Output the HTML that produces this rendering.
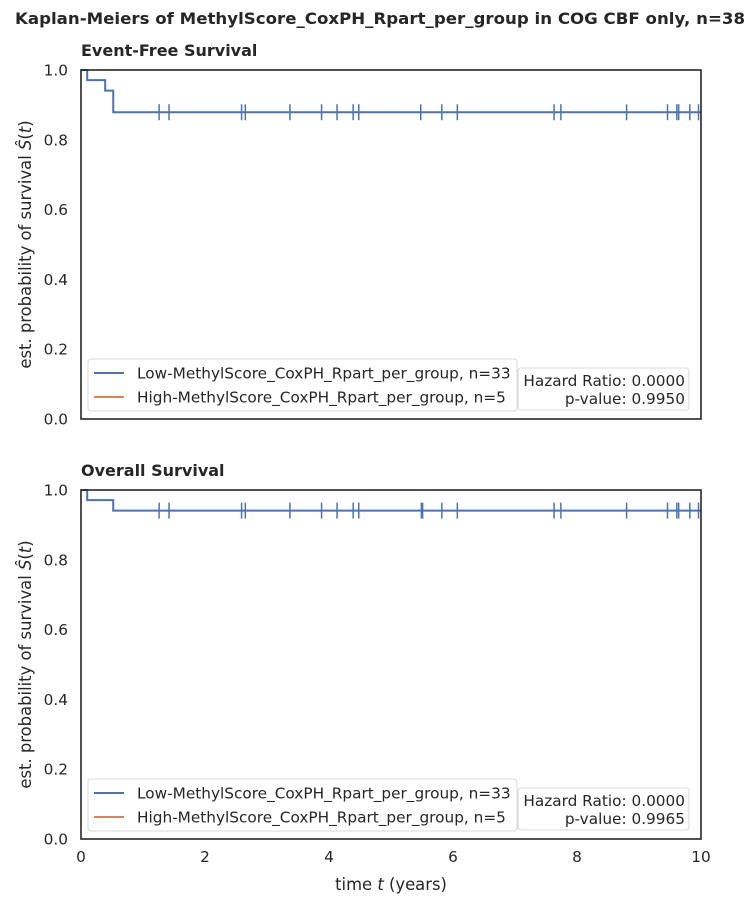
<!DOCTYPE html>
<html><head><meta charset="utf-8"><style>
html,body{margin:0;padding:0;background:#fff}
svg{display:block;font-family:"DejaVu Sans","Liberation Sans",sans-serif}
</style></head><body>
<svg id="chart" width="755" height="905">
<text x="380" y="24" text-anchor="middle" font-size="16" font-weight="bold" fill="#262626" textLength="730" lengthAdjust="spacingAndGlyphs">Kaplan-Meiers of MethylScore_CoxPH_Rpart_per_group in COG CBF only, n=38</text>
<g id="panels"></g>
<text x="391" y="890" text-anchor="middle" font-size="16.4" fill="#262626">time <tspan font-style="italic">t</tspan> (years)</text>
</svg>
<script>
const panelTitles = ["Event-Free Survival", "Overall Survival"];
const efsTimes = [0, 0.1, 0.39, 0.52, 10];
const efsSurv = [1.0, 0.971, 0.941, 0.879, 0.879];
const efsCensor = [1.26,1.42,2.59,2.65,3.37,3.88,4.13,4.39,4.48,5.48,5.82,6.07,7.63,7.74,8.80,9.46,9.61,9.64,9.82,9.96];
const osTimes = [0, 0.1, 0.52, 10];
const osSurv = [1.0, 0.971, 0.941, 0.941];
const osCensor = [1.26,1.42,2.59,2.65,3.37,3.88,4.13,4.39,4.48,5.49,5.51,5.82,6.07,7.63,7.74,8.80,9.46,9.61,9.64,9.82,9.96];
const xTicks = [0,2,4,6,8,10];
const yTicks = [0.0,0.2,0.4,0.6,0.8,1.0];
const legendLabels = ["Low-MethylScore_CoxPH_Rpart_per_group, n=33","High-MethylScore_CoxPH_Rpart_per_group, n=5"];
const hazardRatios = ["0.0000","0.0000"];
const pValues = ["0.9950","0.9965"];

const NS="http://www.w3.org/2000/svg";
const root=document.getElementById('panels');
function mk(tag,attrs,parent){const e=document.createElementNS(NS,tag);for(const k in attrs)e.setAttribute(k,attrs[k]);parent.appendChild(e);return e;}
const X0=81,X1=701;
const FS=15.3;
function xs(t){return X0+(t/10)*(X1-X0);}
const panels=[{top:70,times:efsTimes,surv:efsSurv,cens:efsCensor},{top:490,times:osTimes,surv:osSurv,cens:osCensor}];
panels.forEach((p,i)=>{
  const Y0=p.top,Y1=p.top+349;
  const ys=v=>Y1-v*(Y1-Y0);
  const g=mk('g',{},root);
  
  
  const tt=mk('text',{x:X0,y:Y0-14,'font-size':16,'font-weight':'bold',fill:'#262626'},g);
  tt.textContent=panelTitles[i];
  
  
  let d=`M${xs(p.times[0])},${ys(p.surv[0])}`;
  for(let k=1;k<p.times.length;k++){d+=` H${xs(p.times[k])} V${ys(p.surv[k])}`;}
  const c=mk('path',{d:d,fill:'none',stroke:'#4c72b0','stroke-width':2},g);
  
  
  const survAt=t=>{let v=p.surv[0];for(let k=0;k<p.times.length;k++){if(p.times[k]<=t)v=p.surv[k];}return v;};
  p.cens.forEach(t=>{
    const y=ys(survAt(t));
    const m=mk('line',{x1:xs(t),x2:xs(t),y1:y-8,y2:y+8,stroke:'#4c72b0','stroke-width':1.5},g);
    
    
  });
  const f=mk('rect',{x:X0,y:Y0,width:X1-X0,height:Y1-Y0,fill:'none',stroke:'#262626','stroke-width':1.6},g);
  
  
  yTicks.forEach(v=>{
    const t=mk('text',{x:68,y:ys(v)+5.5,'text-anchor':'end','font-size':FS,fill:'#262626'},g);
    t.textContent=v.toFixed(1);
    
    
  });
  if(i===1){xTicks.forEach(v=>{
    const t=mk('text',{x:xs(v),y:Y1+23,'text-anchor':'middle','font-size':FS,fill:'#262626'},g);
    t.textContent=v;
    
    
  });}
  const yl=mk('text',{x:0,y:0,transform:`translate(31,${(Y0+Y1)/2}) rotate(-90)`,'text-anchor':'middle','font-size':16.4,fill:'#262626'},g);
  yl.innerHTML='est. probability of survival <tspan font-style="italic">Ŝ</tspan>(<tspan font-style="italic">t</tspan>)';
  
  
  const lg=mk('g',{},g);
  
  
  mk('rect',{x:88,y:Y0+289,width:429,height:52,rx:3,fill:'#fff',stroke:'#d9d9d9'},lg);
  ['#4c72b0','#dd8452'].forEach((col,k)=>{
    const ly=Y0+303+k*24;
    mk('line',{x1:94,x2:124,y1:ly,y2:ly,stroke:col,'stroke-width':2},lg);
    const t=mk('text',{x:137,y:ly+5.5,'font-size':FS,fill:'#262626'},lg);
    t.textContent=legendLabels[k];
    
    
  });
  const sb=mk('g',{},g);
  
  
  mk('rect',{x:518,y:Y0+298,width:171,height:42,rx:3,fill:'#fff',stroke:'#d9d9d9'},sb);
  const h=mk('text',{x:685,y:Y0+316,'text-anchor':'end','font-size':FS,fill:'#262626'},sb);
  h.textContent='Hazard Ratio: '+hazardRatios[i];
  const pv=mk('text',{x:685,y:Y0+334,'text-anchor':'end','font-size':FS,fill:'#262626'},sb);
  pv.textContent='p-value: '+pValues[i];
});
</script>
</body></html>
